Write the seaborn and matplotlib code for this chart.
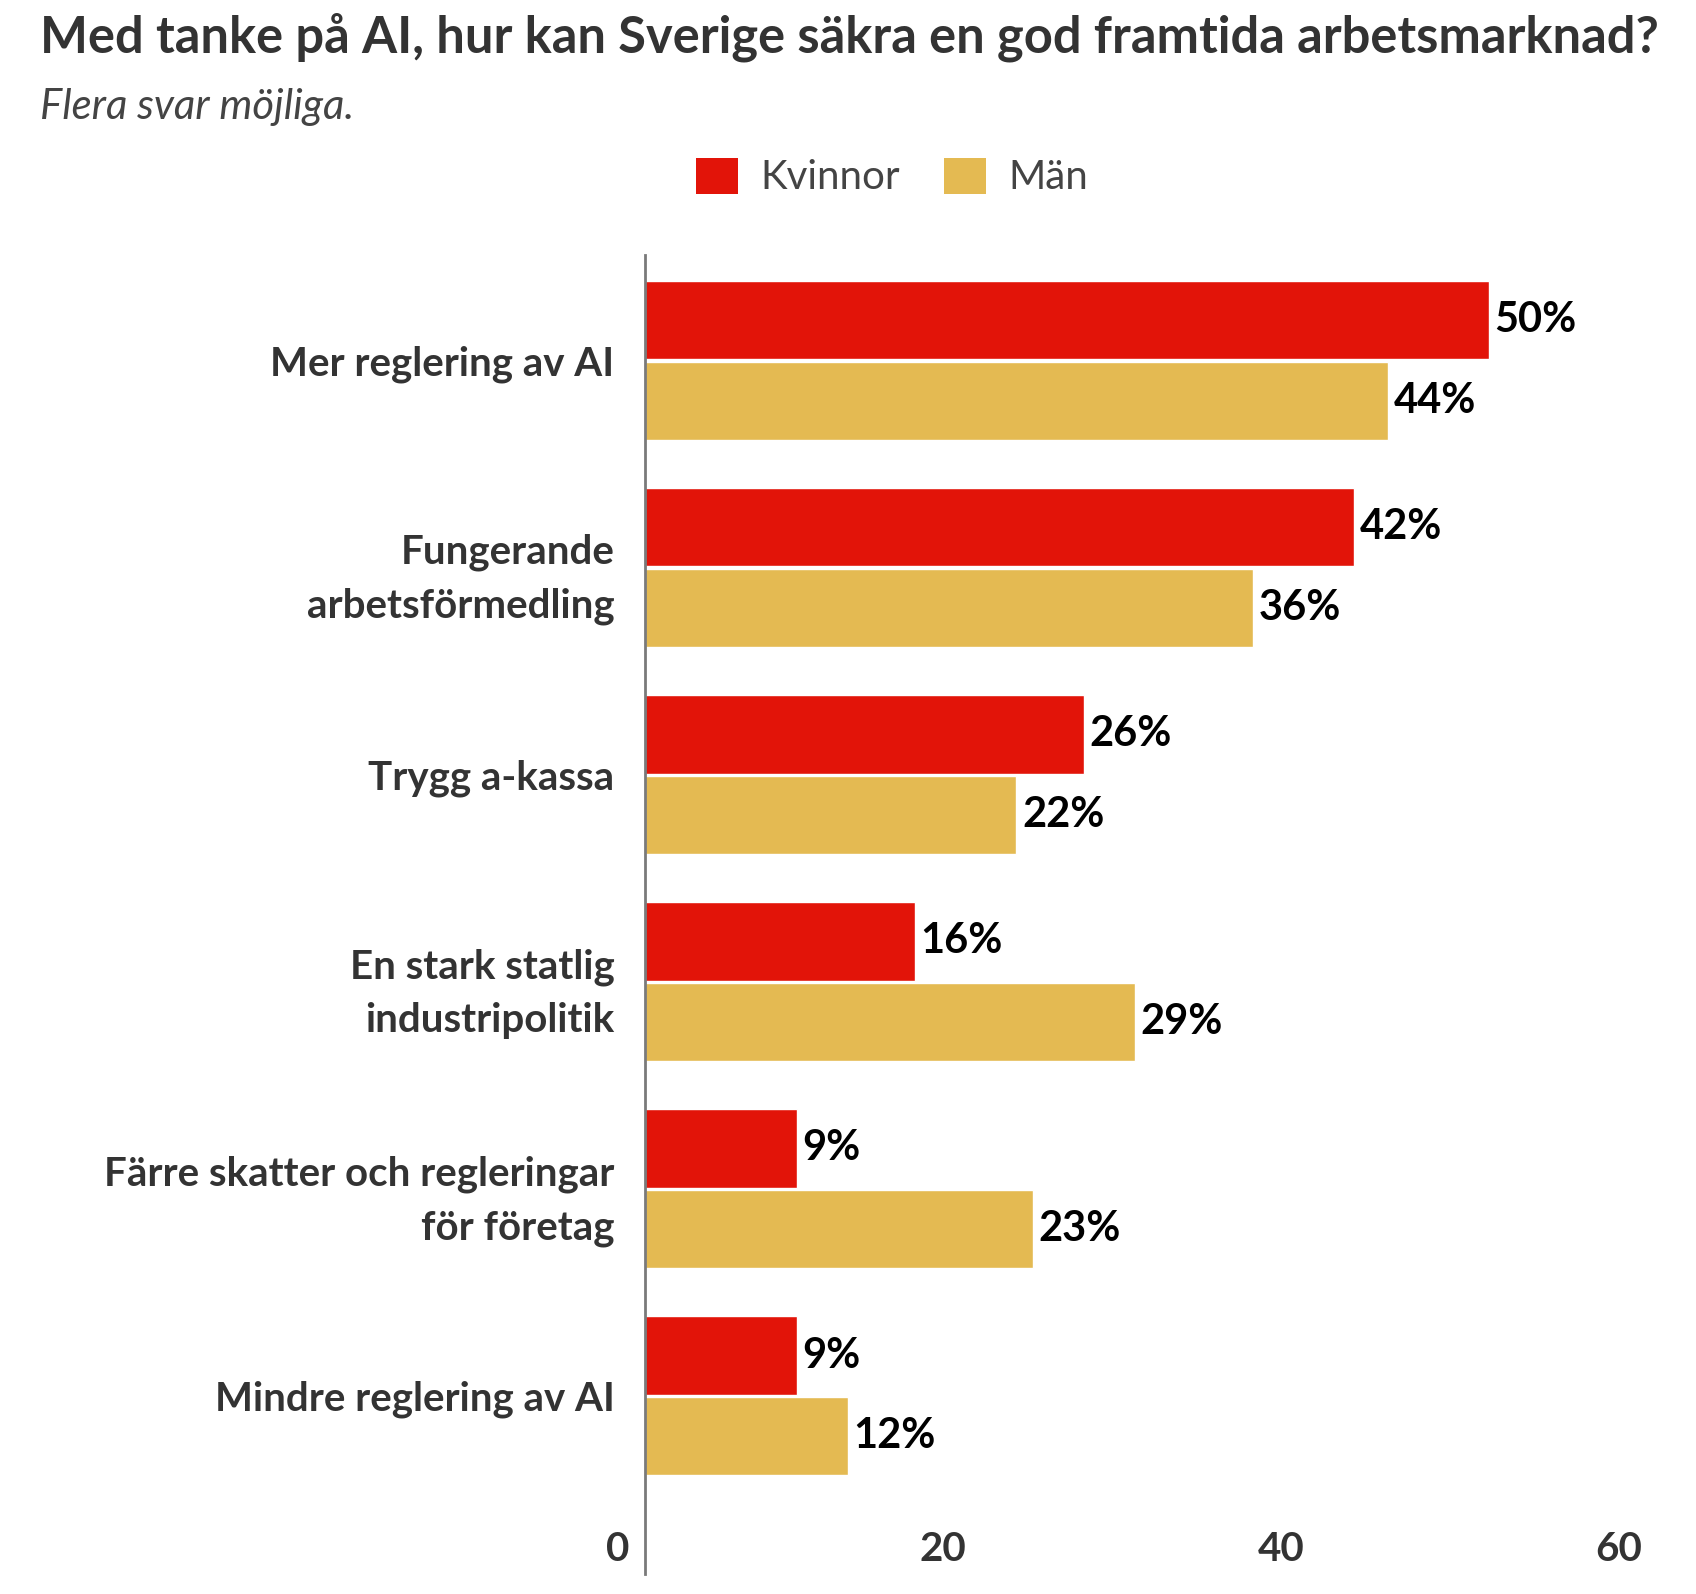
import matplotlib
matplotlib.use("Agg")
import matplotlib.pyplot as plt
import seaborn as sns
import pandas as pd
from matplotlib import font_manager
from matplotlib.patches import Patch
from matplotlib.transforms import blended_transform_factory, offset_copy

# ---------------- data ----------------
categories = [
    "Mer reglering av AI",
    "Fungerande\narbetsförmedling",
    "Trygg a-kassa",
    "En stark statlig\nindustripolitik",
    "Färre skatter och regleringar\nför företag",
    "Mindre reglering av AI",
]
kvinnor = [50, 42, 26, 16, 9, 9]
man = [44, 36, 22, 29, 23, 12]
series = ["Kvinnor", "Män"]
xticks = [0, 20, 40, 60]
title = "Med tanke på AI, hur kan Sverige säkra en god framtida arbetsmarknad?"
subtitle = "Flera svar möjliga."

RED = "#E21409"
YELLOW = "#E4BA52"
DARK = "#333333"

df = pd.DataFrame({
    "kategori": categories * 2,
    "grupp": [series[0]] * len(categories) + [series[1]] * len(categories),
    "andel": kvinnor + man,
})

sns.set_theme(style="white")
names = {f.name for f in font_manager.fontManager.ttflist}
fam = [n for n in ["Liberation Sans Narrow", "Lato", "DejaVu Sans"] if n in names]
plt.rcParams["font.family"] = fam

W, H = 1696, 1594
fig = plt.figure(figsize=(W / 100, H / 100), dpi=100)
ax = fig.add_axes([645 / W, 1 - 1574 / H, (1658 - 645) / W, (1574 - 255) / H])

sns.barplot(
    data=df, y="kategori", x="andel", hue="grupp", orient="h",
    palette={series[0]: RED, series[1]: YELLOW}, saturation=1,
    width=0.78, gap=0.03, edgecolor="white", linewidth=1.0,
    ax=ax, legend=False, order=categories, hue_order=series,
)
ax.set_xlim(0, 60)
ax.set_ylim(5.86, -0.51)
ax.set_xlabel("")
ax.set_ylabel("")

for s in ["top", "right", "bottom"]:
    ax.spines[s].set_visible(False)
ax.spines["left"].set_color("#7a7a7a")
ax.spines["left"].set_linewidth(2)

ax.set_xticks([])
ax.tick_params(axis="y", length=0, pad=22)
ax.set_yticks(range(len(categories)))
ax.set_yticklabels(categories, fontsize=29, fontweight="bold", color=DARK,
                   linespacing=1.55, ha="right")

# value labels
for cont in ax.containers:
    ax.bar_label(cont, fmt="%g%%", padding=4, fontsize=30,
                 fontweight="bold", color="black")

# x tick labels (drawn inside the bottom of the axes, right-aligned left of tick)
btr = blended_transform_factory(ax.transData, ax.transAxes)
ttr = offset_copy(btr, fig=fig, x=-16, y=13, units="dots")
for t in xticks:
    ax.text(t, 0, str(t), transform=ttr, ha="right", va="baseline",
            fontsize=29, fontweight="bold", color=DARK)

# legend
handles = [Patch(facecolor=RED, edgecolor="none"), Patch(facecolor=YELLOW, edgecolor="none")]
fig.legend(handles, series, loc="center", bbox_to_anchor=(892 / W, 1 - 177 / H),
           ncol=2, frameon=False, fontsize=29, labelcolor="#444444",
           handlelength=1.05, handleheight=1.0, handletextpad=0.55,
           columnspacing=1.1)

# title and subtitle
t1 = fig.text(40 / W, 1 - 52 / H, title, fontsize=37, fontweight="bold",
              color=DARK, ha="left", va="baseline")
t2 = fig.text(40 / W, 1 - 119 / H, subtitle, fontsize=29, style="italic",
              color="#444444", ha="left", va="baseline")

# fit text widths to the reference layout
fig.canvas.draw()
r = fig.canvas.get_renderer()
for txt, target in [(t1, 1620), (t2, 314)]:
    w = txt.get_window_extent(r).width
    txt.set_fontsize(txt.get_fontsize() * target / w)

fig.savefig("out.png", dpi=100)
